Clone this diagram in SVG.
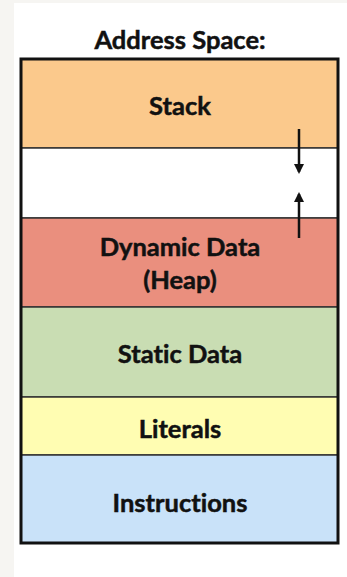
<svg xmlns="http://www.w3.org/2000/svg" width="347" height="577" viewBox="0 0 347 577">
  <style>
    .lbl { font-family: Lato, "Open Sans", sans-serif; font-weight: bold; font-size: 25.5px; fill: #111; stroke: #111; stroke-width: 0.5; text-anchor: middle; font-variant-ligatures: none; }
    .seg { stroke: #333; stroke-width: 1.5; }
    .arrow { stroke: #111; stroke-width: 2.5; fill: none; }
  </style>
  <defs>
    <marker id="head" viewBox="0 0 10 10" refX="8" refY="5" markerWidth="4.2" markerHeight="4" orient="auto" markerUnits="strokeWidth">
      <path d="M0,0 L10,5 L0,10 Z" fill="#111"/>
    </marker>
  </defs>

  <!-- page background -->
  <rect x="0" y="0" width="347" height="577" fill="#f6f5f2"/>
  <rect x="14" y="3" width="333" height="574" fill="#ffffff"/>

  <text class="lbl" x="180" y="49">Address Space:</text>

  <!-- memory segments, top to bottom -->
  <g id="stack">
    <rect class="seg" x="21" y="59" width="317" height="89" fill="#fbc98c"/>
    <text class="lbl" x="180" y="115">Stack</text>
  </g>
  <g id="free">
    <rect class="seg" x="21" y="148" width="317" height="70" fill="#ffffff"/>
  </g>
  <g id="heap">
    <rect class="seg" x="21" y="218" width="317" height="89" fill="#ea8f7e"/>
    <text class="lbl" x="180" y="256">Dynamic Data</text>
    <text class="lbl" x="180" y="289">(Heap)</text>
  </g>
  <g id="static">
    <rect class="seg" x="21" y="307" width="317" height="90" fill="#c9ddb3"/>
    <text class="lbl" x="180" y="363">Static Data</text>
  </g>
  <g id="literals">
    <rect class="seg" x="21" y="397" width="317" height="58" fill="#fffdb2"/>
    <text class="lbl" x="180" y="438">Literals</text>
  </g>
  <g id="instructions">
    <rect class="seg" x="21" y="455" width="317" height="88" fill="#c9e2f9"/>
    <text class="lbl" x="180" y="512">Instructions</text>
  </g>

  <!-- outer frame -->
  <rect x="21" y="59" width="317" height="484" fill="none" stroke="#111" stroke-width="3"/>

  <!-- growth directions -->
  <g id="connectors">
    <line class="arrow" x1="299" y1="129" x2="299" y2="172" marker-end="url(#head)"/>
    <line class="arrow" x1="299" y1="238" x2="299" y2="194" marker-end="url(#head)"/>
  </g>
</svg>
